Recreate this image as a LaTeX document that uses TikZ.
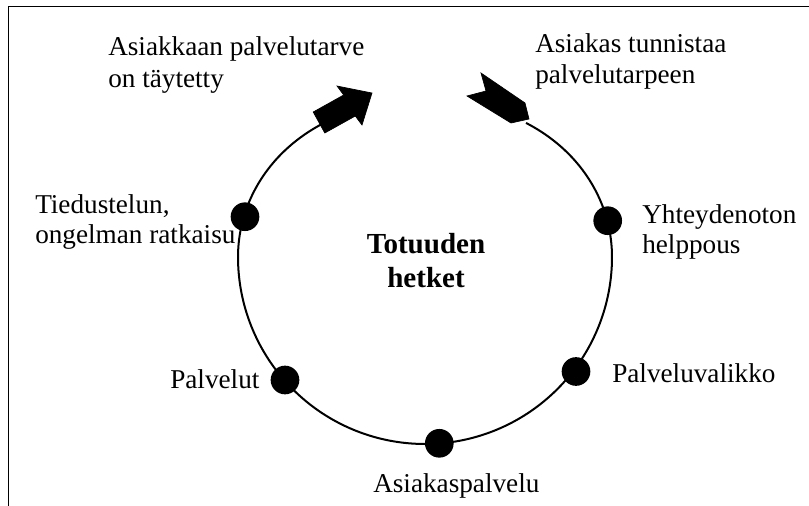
\documentclass[tikz,border=0pt]{standalone}
\usepackage{fontspec}
\setmainfont{Liberation Serif}
\begin{document}
\begin{tikzpicture}[x=0.75pt,y=-0.75pt,
  lbl/.style={inner sep=0pt, align=left},
  dotnode/.style={circle, fill=black, inner sep=0pt, minimum size=21.5pt},
  ring/.style={line width=1.5pt},
  blockarrow/.style={fill=black, draw=black, line width=0.5pt, line join=miter}]
\useasboundingbox (0,0) rectangle (809,506);
% frame (top and left edges)
\draw[line width=1.2pt] (809,6.7) -- (8.5,6.7) -- (8.5,506);
% ring
\draw[ring] plot[domain=-53:232, samples=240, variable=\t, smooth]
  ({425+(187-30*(max(0,-sin(\t)))^2)*cos(\t)}, {257+(187-30*(max(0,-sin(\t)))^2)*sin(\t)});
% left arrow (towards top)
\fill[blockarrow] (313.2,112) -- (343.7,95) -- (337,86) -- (372,93) -- (362,125)
  -- (355.3,116) -- (324.8,133) -- cycle;
% right arrow (notched tail)
\fill[blockarrow] (481,73) -- (486,91) -- (467,96) -- (511,123) -- (529,119)
  -- (525,103) -- cycle;
% dots
\node[dotnode] (d1) at (245,216.7) {};
\node[dotnode] (d2) at (607.7,220.7) {};
\node[dotnode] (d3) at (285,380) {};
\node[dotnode] (d4) at (439.3,443.3) {};
\node[dotnode] (d5) at (576,371.5) {};
% labels
\node[lbl, anchor=north west, font=\fontsize{20.4}{23.8}\selectfont] (t1) at (108,36.5)
  {Asiakkaan palvelutarve\\on täytetty};
\node[lbl, anchor=north west, font=\fontsize{20.4}{23.2}\selectfont] (t2) at (535,33.5)
  {Asiakas tunnistaa\\palvelutarpeen};
\node[lbl, anchor=north west, font=\fontsize{20.4}{22.5}\selectfont] (t3) at (642,204.5)
  {Yhteydenoton\\helppous};
\node[lbl, anchor=north west, font=\fontsize{20.4}{22.5}\selectfont] (t4) at (35,194.5)
  {Tiedustelun,\\ongelman ratkaisu};
\node[lbl, anchor=base west, font=\fontsize{20.4}{24}\selectfont] (t5) at (170,388) {Palvelut};
\node[lbl, anchor=base west, font=\fontsize{20.4}{24}\selectfont] (t6) at (373,492) {Asiakaspalvelu};
\node[lbl, anchor=base west, font=\fontsize{20.4}{24}\selectfont] (t7) at (612,382) {Palveluvalikko};
\node[inner sep=0pt, align=center, anchor=north, font=\fontsize{21.8}{25.5}\selectfont\bfseries] (c) at (426,233)
  {Totuuden\\hetket};
\end{tikzpicture}
\end{document}
